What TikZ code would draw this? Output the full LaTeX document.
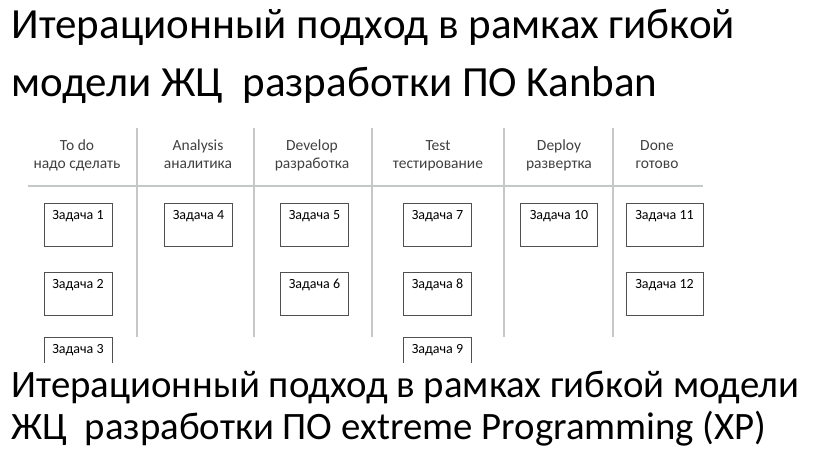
\documentclass[tikz,border=0pt]{standalone}
\usepackage{fontspec}
\setmainfont{Carlito}
\definecolor{linegray}{HTML}{C4C8C8}
\definecolor{boxgray}{HTML}{505050}
\definecolor{headgray}{HTML}{404040}
\tikzset{
  task/.style={draw=boxgray, line width=0.8pt, minimum width=68pt, inner sep=0pt,
    text height=16pt, text depth=27pt, anchor=north, font=\fontsize{14}{14}\selectfont},
  wtask/.style={task, minimum width=77pt},
  head/.style={align=center, text=headgray, anchor=north, inner sep=0pt,
    font=\fontsize{15.5}{18}\selectfont},
  title/.style={anchor=base west, font=\fontsize{43}{50}\selectfont},
  btitle/.style={anchor=base west, font=\fontsize{38.8}{44}\selectfont},
}
\begin{document}
\begin{tikzpicture}[x=1pt, y=-1pt]
\useasboundingbox (0,0) rectangle (816,450);

\node[title] (t1) at (8,38) {Итерационный подход в рамках гибкой};
\node[title] (t2) at (8,96) {модели ЖЦ\ \ разработки ПО Kanban};

% board
\draw[linegray, line width=1.2pt] (28,186) -- (703,186);
\foreach \x in {137,254,372,504,613}
  \draw[linegray, line width=1.2pt] (\x,128) -- (\x,337);

\node[head] (h1) at (77,137.4)  {\strut To do\\\strut надо сделать};
\node[head] (h2) at (198,137.4) {\strut Analysis\\\strut аналитика};
\node[head] (h3) at (312,137.4) {\strut Develop\\\strut разработка};
\node[head] (h4) at (438,137.4) {\strut Test\\\strut тестирование};
\node[head] (h5) at (559,137.4) {\strut Deploy\\\strut развертка};
\node[head] (h6) at (657,137.4) {\strut Done\\\strut готово};

\node[task]  (z1)  at (78,203)    {Задача 1};
\node[task]  (z4)  at (198.5,203) {Задача 4};
\node[task]  (z5)  at (314.5,203) {Задача 5};
\node[task]  (z7)  at (437.5,203) {Задача 7};
\node[wtask] (z10) at (559,203)   {Задача 10};
\node[wtask] (z11) at (664.5,203) {Задача 11};

\node[task]  (z2)  at (78,272)    {Задача 2};
\node[task]  (z6)  at (314.5,272) {Задача 6};
\node[task]  (z8)  at (437.5,272) {Задача 8};
\node[wtask] (z12) at (664.5,272) {Задача 12};

\begin{scope}
\clip (0,0) rectangle (816,362);
\node[task] (z3) at (78,337)    {Задача 3};
\node[task] (z9) at (437.5,337) {Задача 9};
\end{scope}

\node[btitle] (t3) at (8,397) {Итерационный подход в рамках гибкой модели};
\node[btitle] (t4) at (8,439) {ЖЦ\ \ разработки ПО extreme Programming (XP)};

\end{tikzpicture}
\end{document}
